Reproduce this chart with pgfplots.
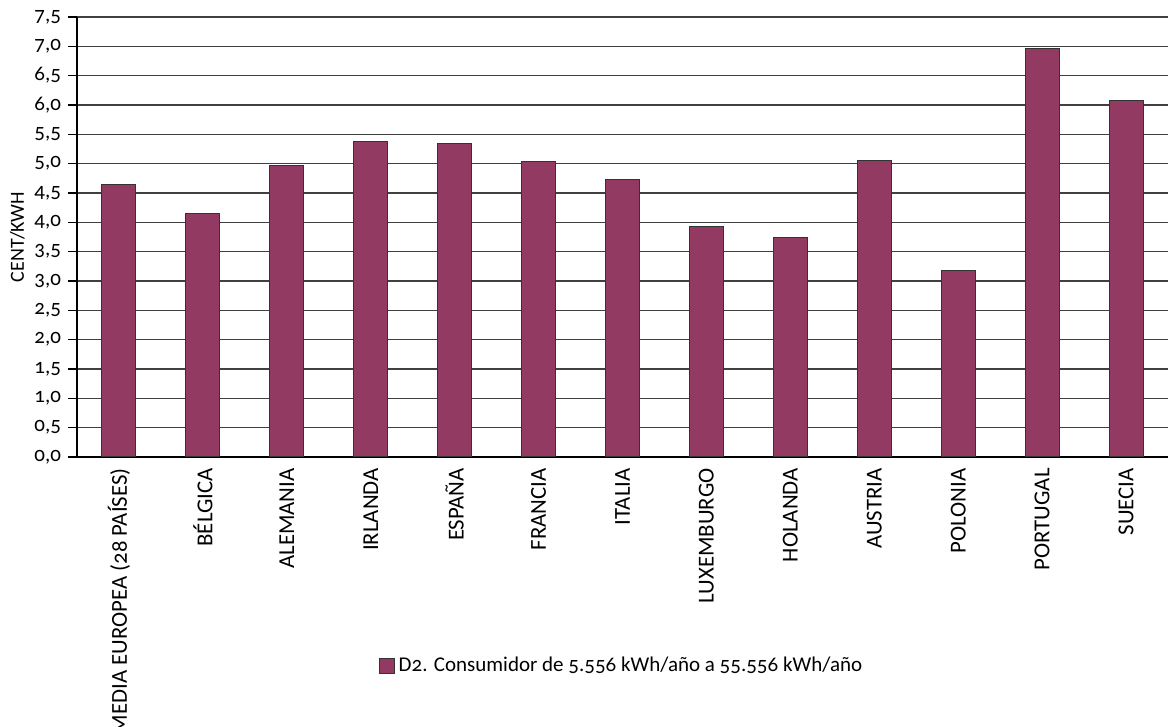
\documentclass[border=0pt]{standalone}
\usepackage{pgfplots}
\pgfplotsset{compat=1.18}
\usepackage{fontspec}
\setmainfont{Carlito}[Numbers=OldStyle]
\usetikzlibrary{calc}
\definecolor{barcol}{RGB}{147,58,99}
\begin{document}
\begin{tikzpicture}
\begin{axis}[
    name=ax,
    scale only axis,
    width=545.5pt, height=220pt,
    ybar, bar width=17pt, bar shift=0pt,
    xmin=-0.5, xmax=12.5,
    ymin=0, ymax=7.5,
    ytick={0,0.5,...,7.5},
    xtick=data,
    xticklabels={MEDIA EUROPEA (28 PAÍSES),BÉLGICA,ALEMANIA,IRLANDA,ESPAÑA,FRANCIA,ITALIA,LUXEMBURGO,HOLANDA,AUSTRIA,POLONIA,PORTUGAL,SUECIA},
    xticklabel style={rotate=90, anchor=east, inner sep=1pt, font=\fontsize{11.4}{14}\selectfont},
    xtick style={draw=none},
    axis x line*=bottom, axis y line*=left,
    axis line style={black, line width=0.8pt, -},
    tick align=outside, major tick length=4.5pt,
    ytick style={black, line width=0.8pt},
    ymajorgrids,
    major grid style={black!75, line width=0.8pt},
    yticklabel style={font=\fontsize{10.5}{12}\selectfont, /pgf/number format/.cd, fixed, fixed zerofill, precision=1, use comma, assume math mode=true},
    yticklabel={\pgfmathprintnumber{\tick}},
    ylabel={CENT/KWH},
    ylabel style={yshift=-2pt},
    label style={font=\fontsize{10}{12}\selectfont},
    legend style={at={(axis description cs:0.5,-0.475)}, anchor=center, draw=none,
        font=\fontsize{10.5}{12}\selectfont, inner sep=1pt},
    legend image code/.code={\draw[#1] (0pt,-3.75pt) rectangle (7.5pt,3.75pt);},
]
\addplot[fill=barcol, draw=black!80, line width=0.5pt] coordinates {
    (0,4.65) (1,4.15) (2,4.97) (3,5.37) (4,5.35) (5,5.03) (6,4.73)
    (7,3.93) (8,3.74) (9,5.05) (10,3.18) (11,6.96) (12,6.08)
};
\addlegendentry{D2. Consumidor de 5.556 kWh/año a 55.556 kWh/año}
\end{axis}
\pgfresetboundingbox
\path[use as bounding box] ($(ax.south west)+(-38.5pt,-135pt)$) rectangle ($(ax.north east)+(0pt,8.5pt)$);
\end{tikzpicture}
\end{document}
